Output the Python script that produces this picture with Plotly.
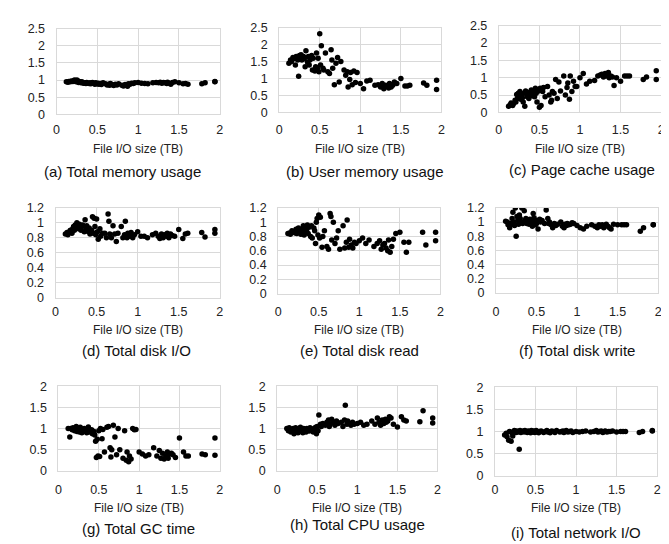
import plotly.graph_objects as go

W, H = 669, 544

# ---------------- data ----------------
file_io_tb = [0.12, 0.14, 0.15, 0.17, 0.18, 0.20, 0.21, 0.22, 0.23, 0.24,
              0.25, 0.26, 0.27, 0.28, 0.29, 0.30, 0.31, 0.32, 0.33, 0.35,
              0.36, 0.37, 0.38, 0.40, 0.41, 0.42, 0.44, 0.45, 0.46, 0.47,
              0.48, 0.49, 0.50, 0.51, 0.52, 0.54, 0.55, 0.57, 0.60, 0.62,
              0.64, 0.65, 0.66, 0.68, 0.70, 0.72, 0.74, 0.76, 0.80, 0.82,
              0.84, 0.85, 0.87, 0.88, 0.90, 0.92, 0.94, 0.96, 1.00, 1.04,
              1.08, 1.12, 1.18, 1.22, 1.25, 1.27, 1.29, 1.31, 1.33, 1.35,
              1.36, 1.38, 1.40, 1.42, 1.45, 1.50, 1.55, 1.58, 1.61, 1.78,
              1.82, 1.94, 1.94]

total_memory = [0.95, 0.94, 0.96, 0.95, 0.97, 0.96, 0.98, 1.00, 0.97, 0.95,
                1.00, 0.97, 0.93, 0.96, 0.94, 0.92, 0.95, 0.93, 0.91, 0.92,
                0.90, 0.93, 0.91, 0.90, 0.92, 0.89, 0.93, 0.91, 0.90, 0.88,
                0.92, 0.90, 0.89, 0.91, 0.88, 0.90, 0.87, 0.92, 0.89, 0.86,
                0.88, 0.85, 0.90, 0.87, 0.84, 0.88, 0.86, 0.89, 0.85, 0.83,
                0.87, 0.86, 0.82, 0.89, 0.88, 0.91, 0.90, 0.92, 0.93, 0.91,
                0.90, 0.89, 0.92, 0.93, 0.92, 0.94, 0.91, 0.93, 0.92, 0.90,
                0.94, 0.91, 0.88, 0.93, 0.95, 0.92, 0.89, 0.90, 0.88, 0.89,
                0.92, 0.96, 0.95]

user_memory = [1.45, 1.55, 1.50, 1.62, 1.58, 1.40, 1.65, 1.60, 1.55, 1.07,
               1.68, 1.62, 1.70, 1.55, 1.60, 1.65, 1.58, 1.35, 1.82, 1.48,
               1.65, 1.40, 1.55, 1.68, 1.25, 1.60, 1.22, 1.35, 1.75, 1.30,
               1.60, 1.20, 2.32, 1.40, 1.97, 1.30, 1.25, 1.75, 1.20, 1.15,
               1.85, 1.55, 1.30, 0.82, 1.45, 1.62, 0.90, 1.50, 1.25, 1.10,
               1.20, 0.75, 0.97, 1.18, 0.82, 1.22, 0.88, 1.18, 0.85, 0.70,
               0.93, 0.95, 0.80, 0.82, 0.75, 0.85, 0.70, 0.80, 0.78, 0.72,
               0.85, 0.75, 0.80, 0.90, 0.85, 1.00, 0.78, 0.78, 0.80, 0.87,
               0.80, 0.95, 0.68]

page_cache = [0.18, 0.22, 0.27, 0.20, 0.25, 0.35, 0.30, 0.52, 0.40, 0.55,
              0.45, 0.60, 0.38, 0.50, 0.42, 0.30, 0.55, 0.18, 0.62, 0.45,
              0.52, 0.40, 0.58, 0.65, 0.48, 0.60, 0.45, 0.70, 0.55, 0.30,
              0.65, 0.62, 0.15, 0.70, 0.20, 0.60, 0.72, 0.45, 0.75, 0.50,
              0.30, 0.35, 0.60, 0.55, 0.95, 0.40, 0.88, 0.62, 1.05, 0.50,
              0.72, 0.85, 0.38, 1.05, 0.60, 0.90, 0.75, 0.75, 1.00, 1.12,
              0.82, 0.90, 0.92, 1.05, 1.08, 1.10, 1.02, 1.12, 1.05, 1.15,
              1.00, 1.05, 1.02, 0.78, 1.00, 0.90, 1.05, 1.05, 1.05, 0.95,
              1.02, 1.20, 0.95]

total_disk_io = [0.85, 0.87, 0.84, 0.88, 0.90, 0.86, 0.92, 0.95, 0.90, 0.97,
                 0.93, 1.00, 0.96, 0.92, 0.98, 0.94, 0.90, 0.95, 0.97, 0.88,
                 1.04, 0.92, 0.96, 0.88, 0.93, 0.85, 0.90, 1.08, 0.86, 1.06,
                 0.95, 0.84, 1.05, 0.88, 0.78, 0.92, 0.82, 0.86, 0.86, 0.80,
                 1.12, 1.02, 0.85, 0.80, 0.96, 0.85, 0.75, 0.86, 0.95, 0.80,
                 0.84, 1.02, 0.80, 0.86, 0.82, 0.87, 0.80, 0.84, 0.88, 0.82,
                 0.82, 0.80, 0.84, 0.86, 0.82, 0.79, 0.85, 0.80, 0.84, 0.82,
                 0.86, 0.80, 0.85, 0.83, 0.82, 0.91, 0.79, 0.85, 0.86, 0.87,
                 0.81, 0.91, 0.86]

total_disk_read = [0.84, 0.85, 0.83, 0.88, 0.86, 0.87, 0.85, 0.90, 0.84, 0.88,
                   0.92, 0.86, 0.88, 0.83, 0.90, 0.85, 0.95, 0.82, 0.92, 0.88,
                   0.96, 0.84, 0.93, 0.80, 0.95, 0.78, 0.92, 0.88, 0.70, 1.00,
                   1.05, 0.82, 1.10, 0.78, 1.07, 0.65, 0.80, 0.88, 0.66, 0.62,
                   1.12, 1.08, 0.75, 1.00, 0.70, 0.78, 0.88, 0.62, 0.95, 0.64,
                   0.72, 1.03, 0.65, 0.76, 0.68, 0.64, 0.72, 0.70, 0.74, 0.78,
                   0.70, 0.75, 0.66, 0.70, 0.74, 0.62, 0.68, 0.70, 0.64, 0.60,
                   0.75, 0.58, 0.66, 0.76, 0.84, 0.86, 0.72, 0.58, 0.72, 0.86,
                   0.68, 0.86, 0.74]

total_disk_write = [1.01, 1.00, 0.96, 0.92, 0.98, 1.05, 1.14, 1.00, 0.95, 1.20,
                    0.80, 1.08, 1.02, 0.97, 1.10, 1.05, 1.00, 1.20, 0.98, 1.16,
                    1.02, 1.05, 0.98, 1.00, 0.97, 1.04, 1.00, 0.94, 1.12, 1.06,
                    1.00, 0.96, 0.98, 1.02, 0.90, 1.04, 1.00, 1.02, 0.98, 1.17,
                    1.05, 0.98, 1.00, 0.96, 0.92, 0.98, 0.95, 0.97, 1.00, 0.94,
                    0.92, 0.97, 0.95, 0.98, 0.96, 0.97, 0.99, 0.98, 0.95, 0.92,
                    0.90, 0.94, 0.96, 0.94, 0.92, 0.96, 0.94, 0.96, 0.92, 0.95,
                    0.97, 0.94, 0.92, 0.90, 0.97, 0.96, 0.96, 0.96, 0.96, 0.87,
                    0.92, 0.96, 0.96]

total_gc_time = [1.00, 0.80, 1.00, 0.97, 1.02, 0.95, 0.98, 1.05, 0.93, 0.97,
                 1.00, 0.92, 1.03, 0.95, 0.90, 0.98, 0.93, 1.00, 0.95, 0.90,
                 0.97, 1.04, 0.92, 0.95, 0.97, 0.88, 0.93, 0.85, 0.70, 0.32,
                 0.75, 0.35, 0.95, 0.34, 1.00, 0.76, 0.98, 0.45, 1.03, 1.05,
                 0.55, 0.33, 0.50, 1.08, 0.80, 0.38, 1.00, 0.50, 0.30, 0.95,
                 0.25, 0.45, 0.22, 0.35, 0.28, 1.00, 0.97, 0.98, 0.45, 0.40,
                 0.35, 0.38, 0.55, 0.35, 0.48, 0.30, 0.42, 0.28, 0.35, 0.45,
                 0.30, 0.40, 0.42, 0.38, 0.32, 0.78, 0.45, 0.35, 0.35, 0.40,
                 0.38, 0.78, 0.37]

total_cpu = [1.00, 0.95, 1.02, 0.92, 0.98, 1.00, 0.88, 0.96, 1.02, 0.93,
             0.98, 0.90, 1.00, 0.95, 1.03, 0.94, 0.97, 0.90, 1.00, 0.96,
             0.92, 1.00, 0.97, 0.94, 1.02, 0.96, 0.98, 0.92, 1.00, 0.95,
             1.03, 0.88, 1.05, 0.95, 1.32, 1.10, 1.05, 1.12, 1.08, 1.15,
             1.20, 1.05, 1.10, 1.22, 1.15, 1.08, 1.18, 1.12, 1.15, 1.05,
             1.20, 1.55, 1.10, 1.18, 1.12, 1.08, 1.15, 1.10, 1.12, 1.15,
             1.08, 1.10, 1.18, 1.10, 1.25, 1.15, 1.08, 1.20, 1.12, 1.22,
             1.15, 1.18, 1.28, 1.25, 1.10, 1.04, 1.28, 1.20, 1.18, 1.16,
             1.42, 1.25, 1.13]

total_network_io = [0.92, 0.96, 0.88, 0.80, 1.00, 0.78, 0.97, 0.90, 1.00, 1.02,
                    1.00, 0.98, 1.01, 0.99, 1.00, 0.60, 1.02, 0.98, 1.00, 1.01,
                    0.99, 1.02, 1.00, 0.98, 1.01, 1.00, 0.97, 1.02, 0.99, 1.00,
                    1.01, 0.98, 1.00, 1.02, 0.99, 0.97, 1.00, 1.01, 0.98, 1.00,
                    1.02, 0.99, 1.00, 0.97, 1.01, 1.00, 0.98, 1.02, 0.99, 1.00,
                    1.01, 0.98, 1.00, 1.02, 0.99, 1.00, 1.01, 0.98, 1.00, 0.99,
                    1.00, 1.01, 0.99, 1.00, 1.02, 0.99, 1.00, 1.01, 0.98, 1.00,
                    1.01, 0.99, 1.00, 1.00, 1.01, 0.99, 1.00, 1.00, 1.00, 0.98,
                    1.00, 1.02, 1.01]

x_ticks = [0, 0.5, 1, 1.5, 2]
x_title = "File I/O size (TB)"

captions = ["(a) Total memory usage", "(b) User memory usage", "(c) Page cache usage",
            "(d) Total disk I/O", "(e) Total disk read", "(f) Total disk write",
            "(g) Total GC time", "(h) Total CPU usage", "(i) Total network I/O"]

series = [total_memory, user_memory, page_cache,
          total_disk_io, total_disk_read, total_disk_write,
          total_gc_time, total_cpu, total_network_io]

y_max = [2.5, 2.5, 2.5, 1.2, 1.2, 1.2, 2, 2, 2]
y_step = [0.5, 0.5, 0.5, 0.2, 0.2, 0.2, 0.5, 0.5, 0.5]

# ---------------- layout (pixels) ----------------
# left, right, top, bottom of each plot area
boxes = [(46, 211, 14, 102), (271, 435, 13, 100), (493, 657, 11, 100),
         (45, 211, 198, 290), (270, 434, 198, 286), (490, 654, 198, 285),
         (48, 211, 381, 468), (269, 431, 381, 468), (489, 653, 382, 473)]
xtick_y = [117, 117, 117, 303, 303, 303, 486, 486, 486]
xtitle_y = [138, 138, 138, 323, 323, 323, 506, 506, 506]
cap_pos = [(113, 161), (358, 161), (577, 159),
           (127, 344), (352, 344), (572, 344),
           (129, 527), (350, 523), (571, 531)]

GRID = "#d9d9d9"
TICKFONT = dict(family="Liberation Sans, Arial, sans-serif", size=12.5, color="#222222")
TXTFONT = "Liberation Sans, Arial, sans-serif"

fig = go.Figure()
layout = dict(width=W, height=H, margin=dict(l=0, r=0, t=0, b=0),
              paper_bgcolor="white", plot_bgcolor="white", showlegend=False)
annotations = []


def fmt(v):
    return "%g" % v


for i in range(9):
    l, r, t, b = boxes[i]
    ax = "" if i == 0 else str(i + 1)
    fig.add_trace(go.Scatter(
        x=file_io_tb, y=series[i], mode="markers",
        marker=dict(size=5.5, color="black"),
        xaxis="x" + ax, yaxis="y" + ax, hoverinfo="x+y"))
    n = int(round(y_max[i] / y_step[i]))
    yt = [round(k * y_step[i], 2) for k in range(n + 1)]
    layout["xaxis" + ax] = dict(
        domain=[l / W, r / W], anchor="y" + ax, range=[0, 2],
        tickvals=x_ticks, ticktext=[fmt(v) for v in x_ticks],
        showgrid=True, gridcolor=GRID, gridwidth=1,
        zeroline=False, showline=True, linecolor=GRID, mirror=True,
        ticks="outside", ticklen=max(1, xtick_y[i] - b - 11), tickcolor="rgba(0,0,0,0)",
        tickfont=TICKFONT, fixedrange=True)
    layout["yaxis" + ax] = dict(
        domain=[1 - b / H, 1 - t / H], anchor="x" + ax, range=[0, y_max[i]],
        tickvals=yt, ticktext=[fmt(v) for v in yt],
        showgrid=True, gridcolor=GRID, gridwidth=1,
        zeroline=False, showline=True, linecolor=GRID, mirror=True,
        ticks="outside", ticklen=8, tickcolor="rgba(0,0,0,0)",
        tickfont=TICKFONT, fixedrange=True)
    annotations.append(dict(
        text=x_title, xref="paper", yref="paper",
        x=(l + r) / 2 / W, y=1 - xtitle_y[i] / H, xanchor="center", yanchor="middle",
        showarrow=False, font=dict(family=TXTFONT, size=12, color="#222222")))
    cx, cy = cap_pos[i]
    annotations.append(dict(
        text=captions[i], xref="paper", yref="paper",
        x=cx / W, y=1 - cy / H, xanchor="center", yanchor="middle",
        showarrow=False, font=dict(family=TXTFONT, size=15, color="#111111")))

layout["annotations"] = annotations
fig.update_layout(**layout)
fig.write_html("out.html")
